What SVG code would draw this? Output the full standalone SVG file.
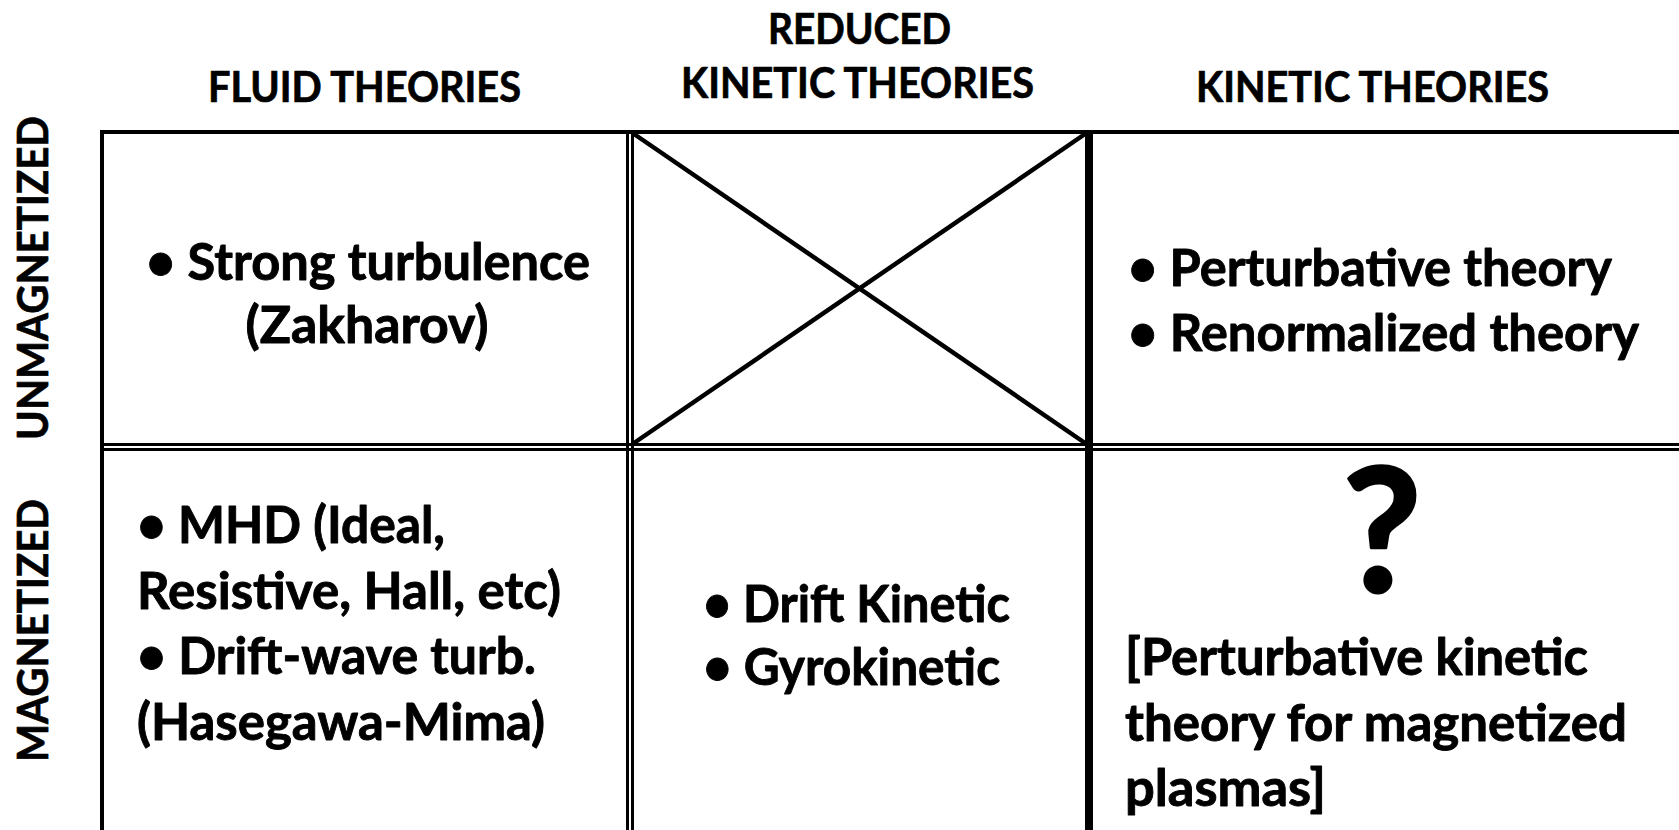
<svg xmlns="http://www.w3.org/2000/svg" width="1679" height="830" viewBox="0 0 1679 830">
<style>
text{font-family:Lato,"Open Sans","Liberation Sans",sans-serif;font-weight:700;fill:#000;stroke:#000;stroke-linejoin:round}
.h{font-size:42px;stroke-width:0.7px}
.b{font-size:51px;stroke-width:0.9px}
.q{font-size:172px;stroke-width:3px}
.m{text-anchor:middle}
.ln{stroke:#000;fill:none;stroke-linecap:butt}
.t3{stroke-width:3}
.t4{stroke-width:4}
.t5{stroke-width:4.5}
.t8{stroke-width:8}
</style>
<rect width="1679" height="830" fill="#fff"/>
<g id="column-headers">
<text class="h" x="208" y="102" textLength="313" lengthAdjust="spacingAndGlyphs">FLUID THEORIES</text>
<text class="h" x="768" y="44" textLength="183" lengthAdjust="spacingAndGlyphs">REDUCED</text>
<text class="h" x="681" y="98" textLength="353" lengthAdjust="spacingAndGlyphs">KINETIC THEORIES</text>
<text class="h" x="1196" y="102" textLength="353" lengthAdjust="spacingAndGlyphs">KINETIC THEORIES</text>
</g>
<g id="row-headers">
<text class="h" transform="translate(48,440) rotate(-90)" textLength="324" lengthAdjust="spacingAndGlyphs">UNMAGNETIZED</text>
<text class="h" transform="translate(48,762) rotate(-90)" textLength="263" lengthAdjust="spacingAndGlyphs">MAGNETIZED</text>
</g>
<g id="grid">
<line class="ln t4" x1="100" y1="132" x2="1679" y2="132"/>
<line class="ln t4" x1="102" y1="130" x2="102" y2="830"/>
<line class="ln t3" x1="100" y1="444.5" x2="1679" y2="444.5"/>
<line class="ln t3" x1="100" y1="449.5" x2="1679" y2="449.5"/>
<line class="ln t3" x1="627.5" y1="130" x2="627.5" y2="830"/>
<line class="ln t3" x1="632.5" y1="130" x2="632.5" y2="830"/>
<line class="ln t8" x1="1089" y1="130" x2="1089" y2="830"/>
</g>
<g id="cell-unmag-fluid">
<text class="b m" x="368" y="280" textLength="444" lengthAdjust="spacingAndGlyphs">• Strong turbulence</text>
<text class="b m" x="367" y="343" textLength="243" lengthAdjust="spacingAndGlyphs">(Zakharov)</text>
</g>
<g id="cell-unmag-reduced">
<line class="ln t5" x1="634" y1="134" x2="1085" y2="443"/>
<line class="ln t5" x1="634" y1="443" x2="1085" y2="134"/>
</g>
<g id="cell-unmag-kinetic">
<text class="b" x="1128" y="286" textLength="484" lengthAdjust="spacingAndGlyphs">• Perturbative theory</text>
<text class="b" x="1128" y="351" textLength="511" lengthAdjust="spacingAndGlyphs">• Renormalized theory</text>
</g>
<g id="cell-mag-fluid">
<text class="b" x="137" y="543" textLength="308" lengthAdjust="spacingAndGlyphs">• MHD (Ideal,</text>
<text class="b" x="137" y="609" textLength="424" lengthAdjust="spacingAndGlyphs">Resistive, Hall, etc)</text>
<text class="b" x="137" y="674" textLength="399" lengthAdjust="spacingAndGlyphs">• Drift-wave turb.</text>
<text class="b" x="137" y="740" textLength="408" lengthAdjust="spacingAndGlyphs">(Hasegawa-Mima)</text>
</g>
<g id="cell-mag-reduced">
<text class="b" x="703" y="622" textLength="307" lengthAdjust="spacingAndGlyphs">• Drift Kinetic</text>
<text class="b" x="703" y="685" textLength="297" lengthAdjust="spacingAndGlyphs">• Gyrokinetic</text>
</g>
<g id="cell-mag-kinetic">
<text class="q m" x="1382" y="592">?</text>
<text class="b" x="1125" y="675" textLength="463" lengthAdjust="spacingAndGlyphs">[Perturbative kinetic</text>
<text class="b" x="1125" y="741" textLength="502" lengthAdjust="spacingAndGlyphs">theory for magnetized</text>
<text class="b" x="1125" y="806" textLength="201" lengthAdjust="spacingAndGlyphs">plasmas]</text>
</g>
</svg>
